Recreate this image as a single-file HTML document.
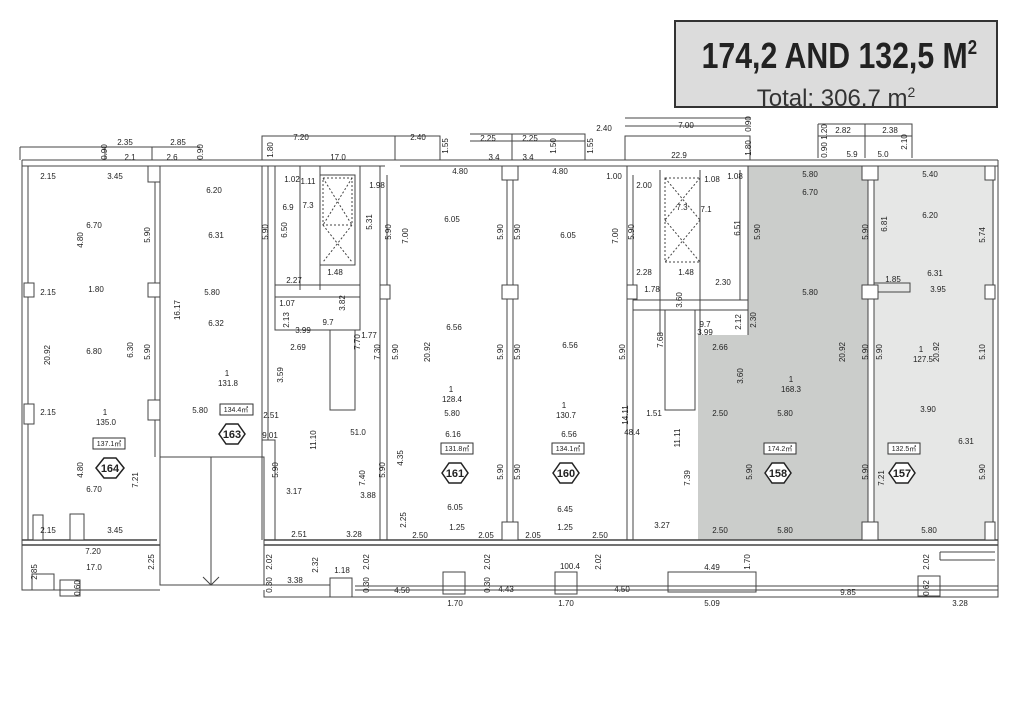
<!DOCTYPE html>
<html><head><meta charset="utf-8"><style>
html,body{margin:0;padding:0;background:#fff;}
body{width:1024px;height:724px;overflow:hidden;position:relative;font-family:"Liberation Sans",sans-serif;}
.title{position:absolute;left:674px;top:20px;width:324px;height:88px;background:#dcdcdc;border:2px solid #333;box-sizing:border-box;text-align:center;overflow:hidden;}
.t1{font-family:"Liberation Sans Narrow","Liberation Sans",sans-serif;font-weight:bold;font-size:36px;color:#222;margin-top:5px;transform:scaleX(0.84);line-height:42px;white-space:nowrap;}
.t2{font-size:24px;color:#333;line-height:28px;margin-top:1px;white-space:nowrap;}
svg{position:absolute;left:0;top:0;}
svg text{font-family:"Liberation Sans",sans-serif;font-size:8px;fill:#222;}
</style></head><body>
<div class="title"><div class="t1">174,2 AND 132,5 M<span style="font-size:20px;vertical-align:14px">2</span></div><div class="t2">Total: 306,7 m<span style="font-size:14px;vertical-align:9px">2</span></div></div>
<svg width="1024" height="724" viewBox="0 0 1024 724">
<path d="M748 166 H868 V540 H698 V335 H748 Z" fill="#cbcdcb"/>
<rect x="874" y="166" width="120" height="374" fill="#e6e7e6"/>
<g fill="none" stroke="#444" stroke-width="1">
<path d="M22 160 H262 M22 166 H262"/>
<path d="M262 160 V136 H440 V160 M262 160 H400 M262 166 H385"/>
<path d="M440 136 H395 V160 M400 160 H585 M400 166 H632"/>
<path d="M470 134 H585 V160 M470 141 H585 M512 134 V160"/>
<path d="M585 160 H625 V136 H750 V160 M625 160 H998 M632 166 H998"/>
<path d="M625 118 H750 M625 126 H750"/>
<path d="M818 124 H912 V158 M818 124 V158 M818 136 H912 M865 124 V158"/>
<path d="M20 147 H200 M105 147 V160 M152 147 V160 M20 147 V160"/>
<path d="M22 160 V545 M28 166 V540"/>
<path d="M998 160 V545 M993 166 V540"/>
<path d="M22 545 H160 M22 540 H157 M264 545 H998 M264 540 H998" stroke-width="1.4"/>
<path d="M22 545 V590 H160 M264 585 H330 M264 590 V597 H998 V545"/>
<path d="M355 590 H998 M355 586 H998"/>
<rect x="32" y="574" width="22" height="16"/>
<rect x="60" y="580" width="20" height="16"/>
<rect x="330" y="578" width="22" height="19"/>
<rect x="443" y="572" width="22" height="22"/>
<rect x="555" y="572" width="22" height="22"/>
<rect x="668" y="572" width="88" height="20"/>
<rect x="918" y="576" width="22" height="20"/>
<path d="M940 560 H995 M940 552 H995 M940 552 V560"/>
<path d="M160 457 H264 V585 H160 Z M211 457 V585 M203 577 L211 585 L219 577" />
<path d="M155 166 V457 M160 166 V457"/>
<path d="M262 166 V540 M268 166 V440"/>
<path d="M275 166 V330 H360 V166"/>
<path d="M300 166 V290 M320 166 V290 M320 175 H355 V265 H320"/>
<path d="M323 178 H352 V225 H323 Z M323 225 L352 262 M352 225 L323 262 M323 178 L352 225 M352 178 L323 225" stroke-dasharray="2 2"/>
<path d="M275 285 H360 M275 297 H360"/>
<path d="M330 330 V410 H355 V330"/>
<path d="M262 440 H275 V540"/>
<path d="M380 166 V540 M387 175 V540"/>
<path d="M507 166 V540 M513 166 V540"/>
<path d="M627 166 V540 M633 175 V540"/>
<path d="M660 170 V335 M700 170 V335 M740 170 V300 M748 166 V335"/>
<path d="M665 178 H700 V262 H665 Z M665 178 L700 220 M700 178 L665 220 M665 220 L700 262 M700 220 L665 262" stroke-dasharray="2 2"/>
<path d="M633 300 H748 M633 310 H748 M665 310 V410 H695 V310"/>
<path d="M868 166 V540 M874 166 V540"/>
<path d="M874 283 H910 V292 H874"/>
</g>
<g fill="#fff" stroke="#444" stroke-width="1">
<rect x="148" y="166" width="12" height="16"/><rect x="148" y="283" width="12" height="14"/><rect x="148" y="400" width="12" height="20"/>
<rect x="24" y="283" width="10" height="14"/><rect x="24" y="404" width="10" height="20"/><rect x="33" y="515" width="10" height="25"/><rect x="70" y="514" width="14" height="26"/>
<rect x="502" y="166" width="16" height="14"/><rect x="502" y="285" width="16" height="14"/><rect x="502" y="522" width="16" height="18"/>
<rect x="862" y="166" width="16" height="14"/><rect x="862" y="285" width="16" height="14"/><rect x="862" y="522" width="16" height="18"/>
<rect x="985" y="166" width="10" height="14"/><rect x="985" y="285" width="10" height="14"/><rect x="985" y="522" width="10" height="18"/>
<rect x="380" y="285" width="10" height="14"/><rect x="627" y="285" width="10" height="14"/>
</g>
<g fill="#fff" stroke="#222" stroke-width="1.5">
<polygon points="96,468 104,458 116,458 124,468 116,478 104,478"/>
<polygon points="219,434 226,424 238,424 245,434 238,444 226,444"/>
<polygon points="442,473 449,463 461,463 468,473 461,483 449,483"/>
<polygon points="553,473 560,463 572,463 579,473 572,483 560,483"/>
<polygon points="765,473 772,463 784,463 791,473 784,483 772,483"/>
<polygon points="889,473 896,463 908,463 915,473 908,483 896,483"/>
</g>
<g text-anchor="middle">
<text x="110" y="472" style="font-size:11px;font-weight:bold">164</text>
<text x="232" y="438" style="font-size:11px;font-weight:bold">163</text>
<text x="455" y="477" style="font-size:11px;font-weight:bold">161</text>
<text x="566" y="477" style="font-size:11px;font-weight:bold">160</text>
<text x="778" y="477" style="font-size:11px;font-weight:bold">158</text>
<text x="902" y="477" style="font-size:11px;font-weight:bold">157</text>
</g>
<g fill="#fff" stroke="#333" stroke-width="1"><rect x="93" y="438" width="32" height="11"/><rect x="220" y="404" width="33" height="11"/><rect x="441" y="443" width="32" height="11"/><rect x="552" y="443" width="32" height="11"/><rect x="764" y="443" width="32" height="11"/><rect x="888" y="443" width="32" height="11"/></g>
<g text-anchor="middle">
<text x="109" y="446" style="font-size:7px">137.1㎡</text><text x="236" y="412" style="font-size:7px">134.4㎡</text><text x="457" y="451" style="font-size:7px">131.8㎡</text><text x="568" y="451" style="font-size:7px">134.1㎡</text><text x="780" y="451" style="font-size:7px">174.2㎡</text><text x="904" y="451" style="font-size:7px">132.5㎡</text>
</g>
<g text-anchor="middle">
<text x="48" y="179">2.15</text><text x="115" y="179">3.45</text><text x="214" y="193">6.20</text><text x="292" y="182">1.02</text><text x="308" y="184">1.11</text><text x="377" y="188">1.98</text><text x="460" y="174">4.80</text><text x="560" y="174">4.80</text><text x="614" y="179">1.00</text><text x="644" y="188">2.00</text><text x="712" y="182">1.08</text><text x="735" y="179">1.08</text><text x="810" y="177">5.80</text><text x="930" y="177">5.40</text>
<text x="810" y="195">6.70</text><text x="930" y="218">6.20</text><text x="94" y="228">6.70</text><text x="216" y="238">6.31</text><text x="452" y="222">6.05</text><text x="568" y="238">6.05</text>
<text x="48" y="295">2.15</text><text x="96" y="292">1.80</text><text x="212" y="295">5.80</text><text x="294" y="283">2.27</text><text x="335" y="275">1.48</text><text x="644" y="275">2.28</text><text x="686" y="275">1.48</text><text x="652" y="292">1.78</text><text x="723" y="285">2.30</text><text x="810" y="295">5.80</text><text x="893" y="282">1.85</text><text x="935" y="276">6.31</text><text x="938" y="292">3.95</text>
<text x="216" y="326">6.32</text><text x="287" y="306">1.07</text><text x="303" y="333">3.99</text><text x="369" y="338">1.77</text><text x="454" y="330">6.56</text><text x="570" y="348">6.56</text><text x="705" y="335">3.99</text><text x="720" y="350">2.66</text><text x="94" y="354">6.80</text><text x="298" y="350">2.69</text>
<text x="48" y="415">2.15</text><text x="105" y="415">1</text><text x="106" y="425">135.0</text><text x="227" y="376">1</text><text x="228" y="386">131.8</text><text x="200" y="413">5.80</text><text x="271" y="418">2.51</text><text x="270" y="438">9.01</text><text x="451" y="392">1</text><text x="452" y="402">128.4</text><text x="452" y="416">5.80</text><text x="564" y="408">1</text><text x="566" y="418">130.7</text><text x="654" y="416">1.51</text><text x="720" y="416">2.50</text><text x="791" y="382">1</text><text x="791" y="392">168.3</text><text x="785" y="416">5.80</text><text x="921" y="352">1</text><text x="923" y="362">127.5</text><text x="928" y="412">3.90</text><text x="966" y="444">6.31</text>
<text x="453" y="437">6.16</text><text x="569" y="437">6.56</text><text x="94" y="492">6.70</text><text x="294" y="494">3.17</text><text x="368" y="498">3.88</text><text x="455" y="510">6.05</text><text x="565" y="512">6.45</text><text x="662" y="528">3.27</text>
<text x="48" y="533">2.15</text><text x="115" y="533">3.45</text><text x="299" y="537">2.51</text><text x="354" y="537">3.28</text><text x="457" y="530">1.25</text><text x="565" y="530">1.25</text><text x="420" y="538">2.50</text><text x="486" y="538">2.05</text><text x="533" y="538">2.05</text><text x="600" y="538">2.50</text><text x="720" y="533">2.50</text><text x="785" y="533">5.80</text><text x="929" y="533">5.80</text>
<text x="93" y="554">7.20</text><text x="94" y="570">17.0</text><text x="295" y="583">3.38</text><text x="342" y="573">1.18</text><text x="402" y="593">4.50</text><text x="506" y="592">4.43</text><text x="622" y="592">4.50</text><text x="712" y="570">4.49</text><text x="570" y="569">100.4</text><text x="455" y="606">1.70</text><text x="566" y="606">1.70</text><text x="712" y="606">5.09</text><text x="848" y="595">9.85</text><text x="960" y="606">3.28</text>
<text x="301" y="140">7.20</text><text x="338" y="160">17.0</text><text x="418" y="140">2.40</text><text x="488" y="141">2.25</text><text x="530" y="141">2.25</text><text x="494" y="160">3.4</text><text x="528" y="160">3.4</text><text x="604" y="131">2.40</text><text x="686" y="128">7.00</text><text x="679" y="158">22.9</text><text x="125" y="145">2.35</text><text x="178" y="145">2.85</text><text x="130" y="160">2.1</text><text x="172" y="160">2.6</text><text x="843" y="133">2.82</text><text x="890" y="133">2.38</text><text x="852" y="157">5.9</text><text x="883" y="157">5.0</text>
<text x="288" y="210">6.9</text><text x="308" y="208">7.3</text><text x="682" y="210">7.3</text><text x="706" y="212">7.1</text><text x="328" y="325">9.7</text><text x="705" y="327">9.7</text><text x="358" y="435">51.0</text><text x="632" y="435">48.4</text>
</g>
<g text-anchor="middle">
<text transform="translate(83,240) rotate(-90)">4.80</text><text transform="translate(150,235) rotate(-90)">5.90</text><text transform="translate(180,310) rotate(-90)">16.17</text><text transform="translate(50,355) rotate(-90)">20.92</text><text transform="translate(133,350) rotate(-90)">6.30</text><text transform="translate(150,352) rotate(-90)">5.90</text><text transform="translate(83,470) rotate(-90)">4.80</text><text transform="translate(138,480) rotate(-90)">7.21</text>
<text transform="translate(268,232) rotate(-90)">5.90</text><text transform="translate(287,230) rotate(-90)">6.50</text><text transform="translate(372,222) rotate(-90)">5.31</text><text transform="translate(391,232) rotate(-90)">5.90</text><text transform="translate(408,236) rotate(-90)">7.00</text><text transform="translate(289,320) rotate(-90)">2.13</text><text transform="translate(345,303) rotate(-90)">3.82</text><text transform="translate(360,342) rotate(-90)">7.70</text><text transform="translate(380,352) rotate(-90)">7.30</text><text transform="translate(398,352) rotate(-90)">5.90</text><text transform="translate(430,352) rotate(-90)">20.92</text><text transform="translate(283,375) rotate(-90)">3.59</text><text transform="translate(316,440) rotate(-90)">11.10</text><text transform="translate(278,470) rotate(-90)">5.90</text><text transform="translate(365,478) rotate(-90)">7.40</text><text transform="translate(385,470) rotate(-90)">5.90</text><text transform="translate(403,458) rotate(-90)">4.35</text><text transform="translate(406,520) rotate(-90)">2.25</text>
<text transform="translate(503,232) rotate(-90)">5.90</text><text transform="translate(520,232) rotate(-90)">5.90</text><text transform="translate(503,352) rotate(-90)">5.90</text><text transform="translate(520,352) rotate(-90)">5.90</text><text transform="translate(503,472) rotate(-90)">5.90</text><text transform="translate(520,472) rotate(-90)">5.90</text><text transform="translate(618,236) rotate(-90)">7.00</text><text transform="translate(634,232) rotate(-90)">5.90</text><text transform="translate(625,352) rotate(-90)">5.90</text><text transform="translate(628,415) rotate(-90)">14.11</text><text transform="translate(663,340) rotate(-90)">7.68</text><text transform="translate(682,300) rotate(-90)">3.60</text><text transform="translate(741,322) rotate(-90)">2.12</text><text transform="translate(756,320) rotate(-90)">2.30</text><text transform="translate(740,228) rotate(-90)">6.51</text><text transform="translate(680,438) rotate(-90)">11.11</text><text transform="translate(690,478) rotate(-90)">7.39</text>
<text transform="translate(760,232) rotate(-90)">5.90</text><text transform="translate(868,232) rotate(-90)">5.90</text><text transform="translate(743,376) rotate(-90)">3.60</text><text transform="translate(845,352) rotate(-90)">20.92</text><text transform="translate(868,352) rotate(-90)">5.90</text><text transform="translate(752,472) rotate(-90)">5.90</text><text transform="translate(868,472) rotate(-90)">5.90</text><text transform="translate(887,224) rotate(-90)">6.81</text><text transform="translate(985,235) rotate(-90)">5.74</text><text transform="translate(882,352) rotate(-90)">5.90</text><text transform="translate(939,352) rotate(-90)">20.92</text><text transform="translate(985,352) rotate(-90)">5.10</text><text transform="translate(884,478) rotate(-90)">7.21</text><text transform="translate(985,472) rotate(-90)">5.90</text>
<text transform="translate(273,150) rotate(-90)">1.80</text><text transform="translate(448,146) rotate(-90)">1.55</text><text transform="translate(556,146) rotate(-90)">1.50</text><text transform="translate(593,146) rotate(-90)">1.55</text><text transform="translate(751,148) rotate(-90)">1.80</text><text transform="translate(751,124) rotate(-90)">0.90</text><text transform="translate(107,152) rotate(-90)">0.90</text><text transform="translate(203,152) rotate(-90)">0.90</text><text transform="translate(827,150) rotate(-90)">0.90</text><text transform="translate(827,132) rotate(-90)">1.20</text><text transform="translate(907,142) rotate(-90)">2.10</text>
<text transform="translate(37,572) rotate(-90)">2.85</text><text transform="translate(154,562) rotate(-90)">2.25</text><text transform="translate(272,562) rotate(-90)">2.02</text><text transform="translate(318,565) rotate(-90)">2.32</text><text transform="translate(369,562) rotate(-90)">2.02</text><text transform="translate(490,562) rotate(-90)">2.02</text><text transform="translate(601,562) rotate(-90)">2.02</text><text transform="translate(750,562) rotate(-90)">1.70</text><text transform="translate(929,562) rotate(-90)">2.02</text><text transform="translate(272,585) rotate(-90)">0.30</text><text transform="translate(369,585) rotate(-90)">0.30</text><text transform="translate(490,585) rotate(-90)">0.30</text><text transform="translate(929,588) rotate(-90)">0.62</text><text transform="translate(80,588) rotate(-90)">0.60</text>
</g>
</svg>
</body></html>
